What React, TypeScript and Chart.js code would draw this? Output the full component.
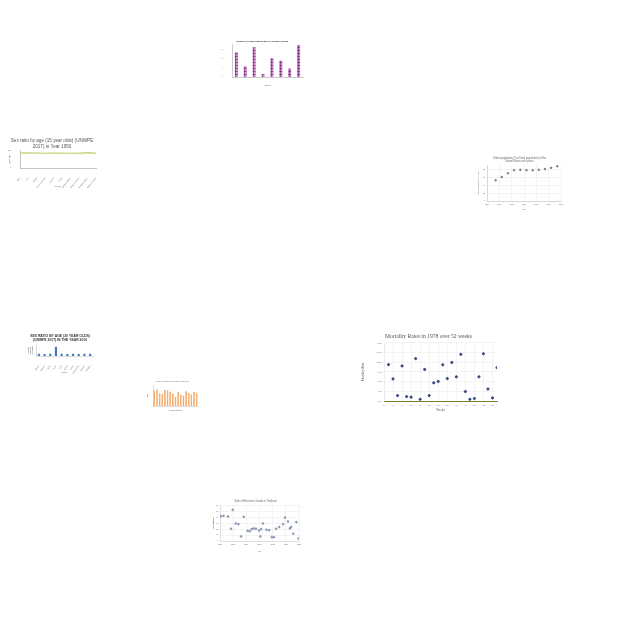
import React, { useEffect, useRef } from "react";
import { Chart, registerables } from "chart.js";
Chart.register(...registerables);
Chart.defaults.font.family = "'Liberation Sans', Arial, sans-serif";

// ---------- Chart 1: daily deaths (dot bars) ----------
const deathCauses = ["Cancer", "Accidents", "Stroke", "Influenza", "Diabetes", "Suicide", "Homicide", "Heart"];
const deathCounts = [10.6, 4.5, 12.8, 1.1, 8, 7, 3.5, 14];

// ---------- Chart 2: sex ratio 1950 ----------
const regions1950 = ["Africa", "Asia", "Europe", "Latin America and the Caribbean", "Oceania", "World", "More developed regions", "Northern America", "Less developed regions", "Least developed countries"];
const ratio1950 = [103, 103, 102.6, 101.2, 102.2, 101.5, 101, 102, 104.5, 101.2];
const ratio1950Ref = [101, 101, 100.8, 100, 100.6, 100.2, 100, 100.4, 101, 100];

// ---------- Chart 3: urban population ----------
const urbanYears = [1957, 1962, 1967, 1972, 1977, 1982, 1987, 1992, 1997, 2002, 2007];
const urbanShare = [52, 60, 69.5, 77, 78, 77, 77, 78, 80, 83, 87];

// ---------- Chart 4: sex ratio 2010 ----------
const countries2010 = ["Albania", "Bahrain", "China", "Qatar", "India", "Kuwait", "Oman", "Saudi Arabia", "Armenia", "Viet Nam"];
const ratio2010 = [20, 18, 22, 95, 20, 19, 21, 18, 20, 22];

// ---------- Chart 5: orange bars ----------
const orangeLabels = ["A", "B", "C", "D", "E", "F", "G", "H", "I", "J", "K", "L", "M", "N", "O", "P", "Q"];
const orangeValues = [72, 78, 60, 58, 76, 75, 68, 58, 44, 68, 55, 50, 70, 62, 56, 66, 63];

// ---------- Chart 6: mortality rates ----------
const mortalityWeeks = [2, 4, 6, 8, 10, 12, 14, 16, 18, 20, 22, 24, 26, 28, 30, 32, 34, 36, 38, 40, 42, 44, 46, 48, 50];
const mortalityRates = [18.8, 11.4, 2.8, 18.1, 2.3, 2.0, 21.9, 0.9, 16.3, 2.8, 9.4, 10.1, 18.7, 11.6, 19.9, 12.5, 24.1, 4.9, 0.9, 1.3, 12.5, 24.4, 6.2, 1.6, 17.2];

// ---------- Chart 7: sales scatter ----------
const salesYears = [2000.2, 2000.8, 2001.8, 2002.9, 2002.5, 2003.6, 2004.2, 2005.4, 2004.8, 2006.3, 2006.8, 2007.2, 2007.7, 2008.2, 2008.9, 2009.4, 2009.2, 2009.8, 2010.6, 2011.2, 2011.8, 2012.3, 2012.8, 2013.5, 2014.4, 2014.8, 2015.5, 2015.9, 2016.2, 2016.7, 2017.4, 2017.9];
const salesValues = [41.8, 42.4, 41.2, 52.4, 20.6, 29.4, 28.2, 40.6, 7.6, 17.1, 16.5, 20.0, 21.2, 20.6, 17.6, 20.0, 7.6, 29.4, 18.8, 18.2, 6.5, 6.5, 20.6, 23.5, 28.2, 39.4, 32.9, 21.2, 23.5, 12.4, 31.8, 4.1];

type Box = { x: number; y: number; w: number; h: number };

const fixW = (w: number) => (s: any) => { s.width = w; };
const fixH = (h: number) => (s: any) => { s.height = h; };

function dotPattern(): CanvasPattern | string {
  const c = document.createElement("canvas");
  c.width = 3; c.height = 3;
  const ctx = c.getContext("2d");
  if (!ctx) return "#8e3a8e";
  ctx.fillStyle = "#e9b6e0";
  ctx.fillRect(0, 0, 3, 3);
  ctx.fillStyle = "#7e2a86";
  ctx.beginPath();
  ctx.arc(1.5, 1.5, 1.2, 0, Math.PI * 2);
  ctx.fill();
  const p = ctx.createPattern(c, "repeat");
  return p || "#8e3a8e";
}

const tiny = (size: number, extra: any = {}) => ({ size, ...extra });
const grid = (color = "#e6e6e6") => ({ color, tickLength: 1, lineWidth: 0.5 });

function build1(): any {
  return {
    type: "bar",
    data: { labels: deathCauses, datasets: [{ data: deathCounts, backgroundColor: dotPattern(), barThickness: 2.4 }] },
    options: {
      animation: false, responsive: false, maintainAspectRatio: false,
      layout: { padding: { right: 5, left: 0, top: 0, bottom: 0 } },
      plugins: {
        legend: { display: false }, tooltip: { enabled: false },
        title: { display: true, text: "Number of daily deaths due to causes in 2012", font: tiny(2.4, { weight: "bold" }), color: "#333", padding: { top: 2.5, bottom: 2.5 } },
      },
      scales: {
        x: { afterFit: fixH(10), grid: { display: false }, border: { color: "#999", width: 0.5 }, ticks: { font: tiny(1.8), padding: 1, autoSkip: false, maxRotation: 0 }, title: { display: true, text: "Causes", font: tiny(1.8), padding: 0.5 } },
        y: { afterFit: fixW(10), min: 0, max: 14, grid: { display: false }, border: { color: "#999", width: 0.5 }, ticks: { stepSize: 2, font: tiny(1.8), padding: 1 } },
      },
    },
  };
}

function build2(): any {
  return {
    type: "line",
    data: {
      labels: regions1950,
      datasets: [
        { data: ratio1950Ref, borderColor: "#e8dd7a", borderWidth: 0.6, pointRadius: 0, tension: 0.4 },
        { data: ratio1950, borderColor: "#8cc152", borderWidth: 0.9, pointRadius: 0, tension: 0.4 },
      ],
    },
    options: {
      animation: false, responsive: false, maintainAspectRatio: false,
      layout: { padding: { right: 4 } },
      plugins: {
        legend: { display: false }, tooltip: { enabled: false },
        title: { display: true, text: ["Sex ratio by age (15 year olds) (UNWPE", "2017) in Year 1950"], font: tiny(4.6, { weight: "normal" }), color: "#555", padding: { top: 2, bottom: 1.5 } },
      },
      scales: {
        x: { afterFit: fixH(20), grid: { display: false }, border: { color: "#888", width: 0.5 }, ticks: { font: tiny(1.8), padding: 1, autoSkip: false, minRotation: 50, maxRotation: 50 }, title: { display: true, text: "Country", font: tiny(1.8), padding: 0.5 } },
        y: { afterFit: fixW(12), min: 0, max: 120, grid: { display: false }, border: { color: "#888", width: 0.5 }, ticks: { stepSize: 20, font: tiny(1.8), padding: 1 }, title: { display: true, text: "Sex ratio", font: tiny(1.8), padding: 0.5 } },
      },
    },
  };
}

function build3(): any {
  return {
    type: "scatter",
    data: { datasets: [{ data: urbanYears.map((x, i) => ({ x, y: urbanShare[i] })), backgroundColor: "#777", borderColor: "#777", pointRadius: 0.8 }] },
    options: {
      animation: false, responsive: false, maintainAspectRatio: false,
      layout: { padding: { right: 4 } },
      plugins: {
        legend: { display: false }, tooltip: { enabled: false },
        title: { display: true, text: ["Urban population (% of total population) of the", "United States over years"], font: tiny(2.6, { weight: "normal" }), color: "#666", padding: { top: 2.4, bottom: 2.4 } },
      },
      scales: {
        x: { afterFit: fixH(10), min: 1950, max: 2010, grid: grid(), border: { color: "#bbb", width: 0.5 }, ticks: { stepSize: 10, font: tiny(1.8), padding: 1, callback: (v: any) => String(v) }, title: { display: true, text: "Year", font: tiny(1.8), padding: 0.5 } },
        y: { afterFit: fixW(10), min: 0, max: 90, grid: grid(), border: { color: "#bbb", width: 0.5 }, ticks: { stepSize: 10, font: tiny(1.8), padding: 1 }, title: { display: true, text: "Urban population (% of total)", font: tiny(1.8), padding: 0.5 } },
      },
    },
  };
}

function build4(): any {
  return {
    type: "bar",
    data: { labels: countries2010, datasets: [{ data: ratio2010, backgroundColor: "#4a78c2", barThickness: 1.5 }] },
    options: {
      animation: false, responsive: false, maintainAspectRatio: false,
      layout: { padding: { right: 4 } },
      plugins: {
        legend: { display: false }, tooltip: { enabled: false },
        title: { display: true, text: ["SEX RATIO BY AGE (20 YEAR OLDS)", "(UNWPE 2017) IN THE YEAR 2010"], font: tiny(3.4, { weight: "bold" }), color: "#333", padding: { top: 2.2, bottom: 2.5 } },
      },
      scales: {
        x: { afterFit: fixH(18), grid: { display: false }, border: { color: "#bbb", width: 0.5 }, ticks: { font: tiny(1.8), padding: 1, autoSkip: false, minRotation: 55, maxRotation: 55 }, title: { display: true, text: "Country", font: tiny(1.8), padding: 0.5 } },
        y: { afterFit: fixW(9), min: 0, max: 120, grid: { display: false }, border: { color: "#bbb", width: 0.5 }, ticks: { stepSize: 40, font: tiny(1.6), padding: 1 }, title: { display: true, text: ["Sex ratio", "(males per", "100 females)"], font: tiny(1.6), padding: 0.5 } },
      },
    },
  };
}

function build5(): any {
  return {
    type: "bar",
    data: { labels: orangeLabels, datasets: [{ data: orangeValues, backgroundColor: "rgba(240,140,50,0.75)", borderColor: "rgb(225,120,30)", borderWidth: 0.4, barPercentage: 0.7, categoryPercentage: 0.9 }] },
    options: {
      animation: false, responsive: false, maintainAspectRatio: false,
      layout: { padding: { right: 2 } },
      plugins: {
        legend: { display: false }, tooltip: { enabled: false },
        title: { display: true, text: "Number of items sold per category in the year", font: tiny(1.6, { weight: "normal" }), color: "#666", padding: { top: 2, bottom: 2 } },
      },
      scales: {
        x: { afterFit: fixH(6), grid: { display: false }, border: { color: "#bbb", width: 0.5 }, ticks: { display: false }, title: { display: true, text: "Product categories", font: tiny(1.6), padding: 0.5 } },
        y: { afterFit: fixW(6), min: 0, max: 100, grid: { display: false }, border: { color: "#bbb", width: 0.5 }, ticks: { stepSize: 20, font: tiny(1.2), padding: 0.5 }, title: { display: true, text: "Units", font: tiny(1.3), padding: 0.3 } },
      },
    },
  };
}

function build6(): any {
  const serif = "'Liberation Serif', 'Times New Roman', serif";
  return {
    type: "scatter",
    data: { datasets: [{ data: mortalityWeeks.map((x, i) => ({ x, y: mortalityRates[i] })), backgroundColor: "#34477a", borderColor: "#34477a", pointRadius: 1.1 }] },
    options: {
      animation: false, responsive: false, maintainAspectRatio: false,
      layout: { padding: { right: 5 } },
      plugins: {
        legend: { display: false }, tooltip: { enabled: false },
        title: { display: true, text: "Mortality Rates in 1978 over 52 weeks", font: { family: serif, size: 5.6, weight: "normal" }, color: "#555", padding: { top: 2.6, bottom: 2.6 } },
      },
      scales: {
        x: { afterFit: fixH(12), min: 0, max: 50, grid: grid("#e8e8e8"), border: { color: "#6e8530", width: 1 }, ticks: { stepSize: 4, includeBounds: false, font: { family: serif, size: 2.6 }, padding: 1.5, color: "#666" }, title: { display: true, text: "Weeks", font: { family: serif, size: 3.2 }, padding: 0.5, color: "#555" } },
        y: { afterFit: fixW(24), min: 0, max: 30, grid: grid("#e8e8e8"), border: { color: "#e0e0e0", width: 0.5 }, ticks: { stepSize: 5, font: { family: serif, size: 2.6 }, padding: 1.5, color: "#666", callback: (v: any) => Number(v).toFixed(1) }, title: { display: true, text: "Mortality Rate", font: { family: serif, size: 3.2 }, padding: 1, color: "#555" } },
      },
    },
  };
}

function build7(): any {
  return {
    type: "scatter",
    data: { datasets: [{ data: salesYears.map((x, i) => ({ x, y: salesValues[i] })), backgroundColor: "rgba(90,110,150,0.6)", borderColor: "#5a6e96", borderWidth: 0.4, pointRadius: 1.0 }] },
    options: {
      animation: false, responsive: false, maintainAspectRatio: false,
      layout: { padding: { right: 5 } },
      plugins: {
        legend: { display: false }, tooltip: { enabled: false },
        title: { display: true, text: "Sale of Electronic Goods in Thailand", font: tiny(2.6, { weight: "normal" }), color: "#666", padding: { top: 2.6, bottom: 2.6 } },
      },
      scales: {
        x: { afterFit: fixH(12), min: 2000, max: 2018, grid: grid(), border: { color: "#ccc", width: 0.5 }, ticks: { stepSize: 3, font: tiny(1.8), padding: 1, callback: (v: any) => String(v) }, title: { display: true, text: "Year", font: tiny(1.8), padding: 0.5 } },
        y: { afterFit: fixW(8), min: 0, max: 60, grid: grid(), border: { color: "#ccc", width: 0.5 }, ticks: { stepSize: 10, font: tiny(1.6), padding: 1 }, title: { display: true, text: "Sales (in millions)", font: tiny(1.5), padding: 0.3 } },
      },
    },
  };
}

function MiniChart({ box, build }: { box: Box; build: () => any }) {
  const ref = useRef<HTMLCanvasElement>(null);
  useEffect(() => {
    if (!ref.current) return;
    const chart = new Chart(ref.current, build());
    return () => chart.destroy();
  }, []);
  return (
    <canvas
      ref={ref}
      width={box.w}
      height={box.h}
      style={{ position: "absolute", left: box.x, top: box.y, width: box.w, height: box.h }}
    />
  );
}

const charts: { box: Box; build: () => any }[] = [
  { box: { x: 222, y: 37, w: 86, h: 50 }, build: build1 },
  { box: { x: 8, y: 136, w: 92, h: 52 }, build: build2 },
  { box: { x: 477, y: 154, w: 89, h: 57 }, build: build3 },
  { box: { x: 27, y: 332, w: 70, h: 42 }, build: build4 },
  { box: { x: 147, y: 379, w: 53, h: 33 }, build: build5 },
  { box: { x: 360, y: 331, w: 142, h: 82 }, build: build6 },
  { box: { x: 212, y: 497, w: 92, h: 56 }, build: build7 },
];

export default function App() {
  return (
    <div style={{ position: "fixed", left: 0, top: 0, width: 640, height: 640, background: "#fff" }}>
      {charts.map((c, i) => (
        <MiniChart key={i} box={c.box} build={c.build} />
      ))}
    </div>
  );
}
